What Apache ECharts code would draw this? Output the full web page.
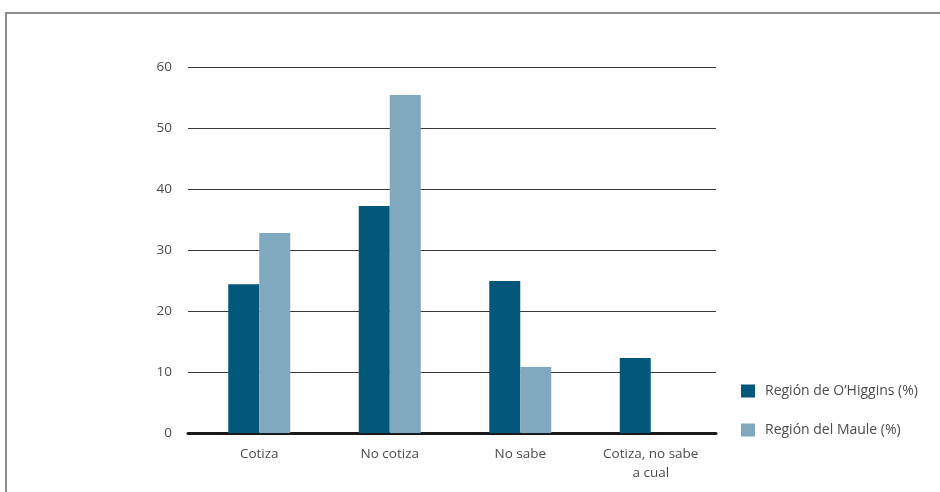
<!DOCTYPE html>
<html><head><meta charset="utf-8">
<script src="https://cdn.jsdelivr.net/npm/echarts@6/dist/echarts.min.js"></script>
<style>html,body{margin:0;padding:0;background:#fff}#c{width:940px;height:492px}</style>
</head><body><div id="c"></div>
<script>
const categories = ['Cotiza', 'No cotiza', 'No sabe', 'Cotiza, no sabe\na cual'];
const ohiggins = [24.4, 37.2, 24.9, 12.3];
const maule = [32.8, 55.4, 10.8, 0];
const yTicks = [0, 10, 20, 30, 40, 50, 60];
const seriesNames = ['Región de O\u2019Higgins (%)', 'Región del Maule (%)'];

const font = '"Open Sans", "Noto Sans", sans-serif';
const chart = echarts.init(document.getElementById('c'));
chart.setOption({
  animation: false,
  textStyle: { fontFamily: font },
  graphic: [{ type: 'rect', shape: { x: 6, y: 13, width: 1200, height: 1200 }, style: { fill: 'none', stroke: '#8c8c8c', lineWidth: 2 } }],
  grid: [
    { left: 188, top: 67, width: 528, height: 366 },
    { left: 194, top: 67, width: 522, height: 366 }
  ],
  legend: {
    orient: 'vertical', left: 741, top: 384, padding: 0, itemWidth: 14, itemHeight: 13, itemGap: 25,
    icon: 'rect',
    textStyle: { fontFamily: font, fontSize: 14, color: '#4d4d4d', padding: [0, 0, 0, 5] },
    data: seriesNames
  },
  xAxis: [
    { type: 'category', gridIndex: 0, data: categories, axisLine: { show: true, lineStyle: { color: '#1a1a1a', width: 3 } },
      axisTick: { show: false }, axisLabel: { show: false }, splitLine: { show: false } },
    { type: 'category', gridIndex: 1, data: categories, axisLine: { show: false }, axisTick: { show: false },
      axisLabel: { fontFamily: font, fontSize: 13.5, color: '#4d4d4d', margin: 12, lineHeight: 19 } }
  ],
  yAxis: [
    { type: 'value', gridIndex: 0, min: yTicks[0], max: yTicks[yTicks.length - 1], interval: 10,
      axisLine: { show: false }, axisTick: { show: false },
      axisLabel: { fontFamily: font, fontSize: 13.5, color: '#4d4d4d', margin: 16 },
      splitLine: { lineStyle: { color: '#383838', width: 1.2 } } },
    { type: 'value', gridIndex: 1, min: yTicks[0], max: yTicks[yTicks.length - 1], interval: 10,
      axisLine: { show: false }, axisTick: { show: false }, axisLabel: { show: false }, splitLine: { show: false } }
  ],
  series: [
    { name: seriesNames[0], type: 'bar', xAxisIndex: 1, yAxisIndex: 1, data: ohiggins, barWidth: 31, barGap: '0%', itemStyle: { color: '#02577b' } },
    { name: seriesNames[1], type: 'bar', xAxisIndex: 1, yAxisIndex: 1, data: maule, barWidth: 31, barGap: '0%', itemStyle: { color: '#80a9bf' } }
  ]
});
</script></body></html>
